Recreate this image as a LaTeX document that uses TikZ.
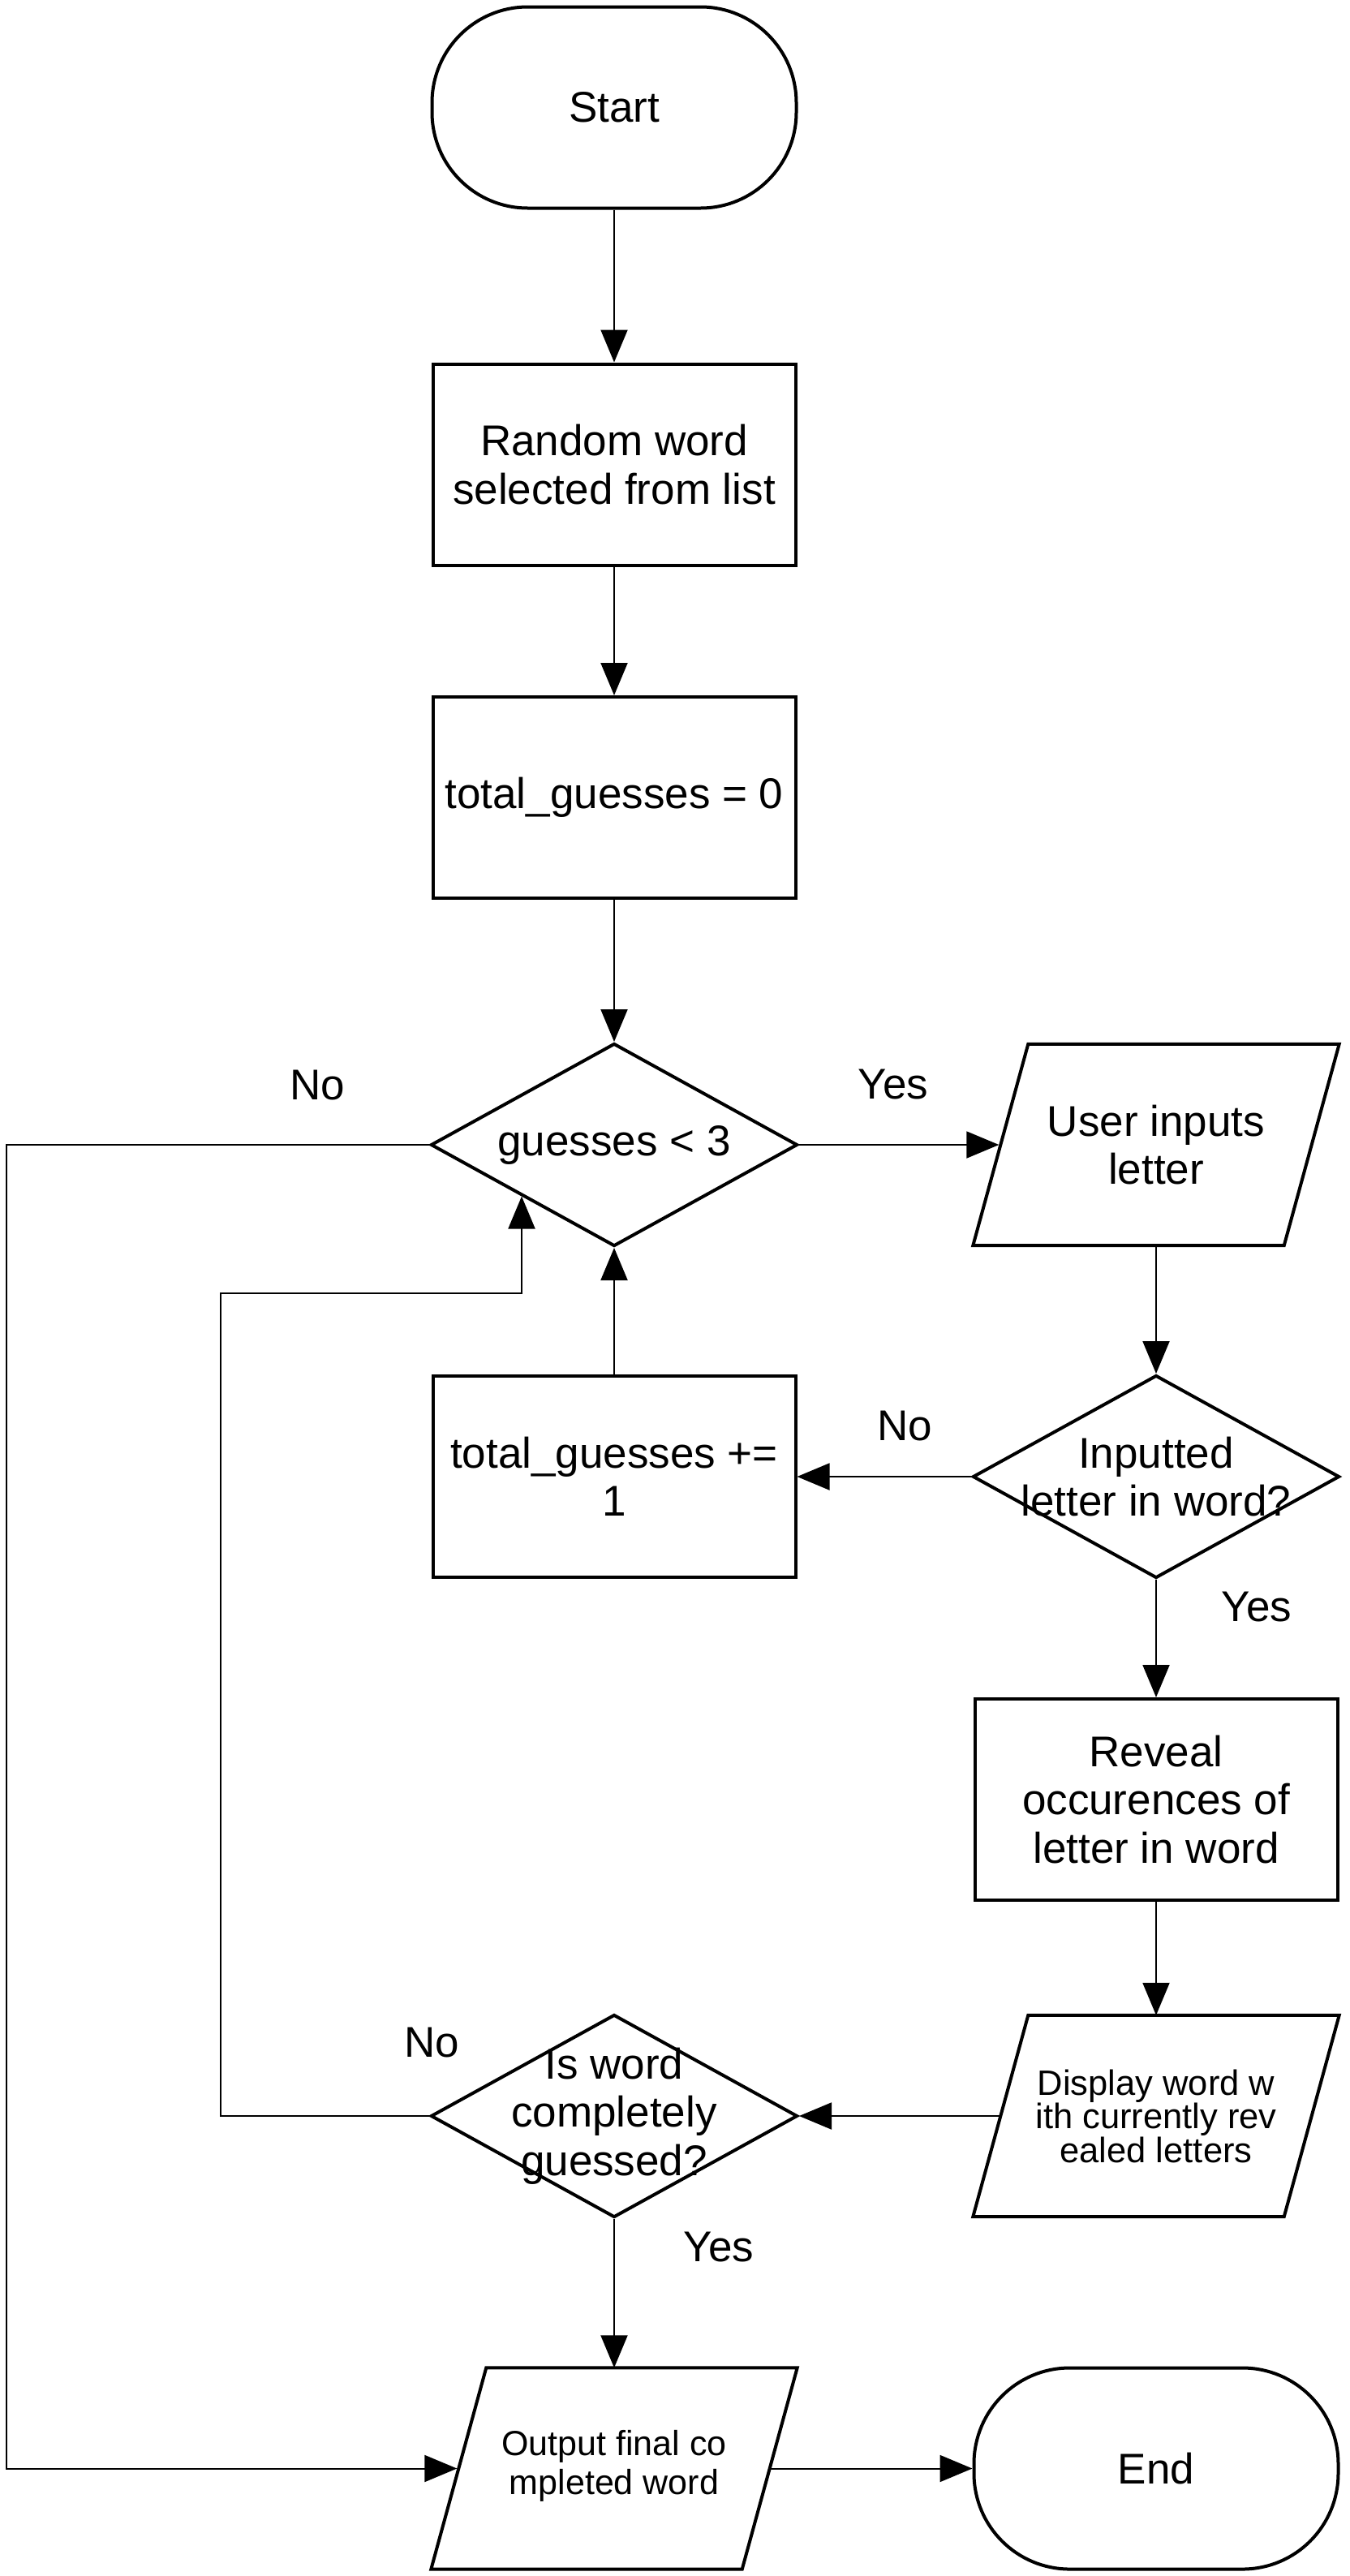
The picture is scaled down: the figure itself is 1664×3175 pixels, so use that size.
\documentclass[tikz,border=0pt]{standalone}
\usepackage{fontspec}
\setmainfont{Liberation Sans}
\usetikzlibrary{shapes.geometric,arrows.meta,calc}
\begin{document}
\begin{tikzpicture}[x=1pt,y=-1pt,
  shapeline/.style={draw=black,line width=4pt,fill=white,inner sep=0pt},
  terminal/.style={shapeline,rectangle,rounded corners=118pt,minimum width=449pt,minimum height=248pt},
  process/.style={shapeline,rectangle,minimum width=447pt,minimum height=248pt},
  decision/.style={shapeline,diamond,minimum width=452pt,minimum height=250pt},
  iobox/.style={rectangle,draw=none,inner sep=0pt,minimum width=451pt,minimum height=248pt},
  ioline/.style={draw=black,line width=4pt,fill=white},
  txt/.style={font=\fontsize{53}{59.5}\selectfont,align=center,inner sep=0pt},
  smalltxt/.style={font=\fontsize{43.5}{41.5}\selectfont,align=center,inner sep=0pt},
  smalltxtb/.style={font=\fontsize{43}{48.5}\selectfont,align=center,inner sep=0pt},
  lbl/.style={font=\fontsize{53}{60}\selectfont,anchor=base,inner sep=0pt},
  conn/.style={line width=2pt,-{Triangle[length=40pt,width=33pt]}},
  plain/.style={line width=2pt}
]
\useasboundingbox (0,0) rectangle (1664,3175);

% ---- shapes ----
\node[terminal] (start) at (757,132.5) {};
\node[txt] (startT) at (start) {Start};

\node[process] (rand) at (757,572.5) {};
\node[txt] (randT) at (rand) {Random word\\selected from list};

\node[process] (tot0) at (757,983) {};
\node[txt] (tot0T) at (tot0) {total\_guesses = 0};

\node[decision] (guess) at (757,1411) {};
\node[txt] (guessT) at (guess) {guesses < 3};

\node[iobox] (userin) at (1425,1411) {};
\draw[ioline] (userin.south west) -- ($(userin.north west)+(68,0)$) -- (userin.north east) -- ($(userin.south east)-(68,0)$) -- cycle;
\node[txt] (userinT) at (userin) {User inputs\\letter};

\node[process] (totp) at (757,1820) {};
\node[txt] (totpT) at (totp) {total\_guesses +=\\1};

\node[decision] (inword) at (1425,1820) {};
\node[txt] (inwordT) at (inword) {Inputted\\letter in word?};

\node[process] (reveal) at (1425,2218) {};
\node[txt] (revealT) at (reveal) {Reveal\\occurences of\\letter in word};

\node[iobox] (display) at (1425,2608) {};
\draw[ioline] (display.south west) -- ($(display.north west)+(68,0)$) -- (display.north east) -- ($(display.south east)-(68,0)$) -- cycle;
\node[smalltxt] (displayT) at (display) {Display word w\\ith currently rev\\ealed letters};

\node[decision] (isword) at (757,2608) {};
\node[txt] (iswordT) at (isword) {Is word\\completely\\guessed?};

\node[iobox] (output) at (757,3042.5) {};
\draw[ioline] (output.south west) -- ($(output.north west)+(68,0)$) -- (output.north east) -- ($(output.south east)-(68,0)$) -- cycle;
\node[smalltxtb] (outputT) at ($(output)+(0,-3)$) {Output final co\\mpleted word};

\node[terminal] (endn) at (1425,3042.5) {};
\node[txt] (endT) at (endn) {End};

% ---- bend points ----
\coordinate (outerL) at (8,3042.5);
\coordinate (innerL) at (272,1594);

% ---- connectors ----
\draw[conn] (start) -- (rand);
\draw[conn] (rand) -- (tot0);
\draw[conn] (tot0) -- (guess);
\draw[conn] (guess.east) -- ($(userin.west)+(32,0)$);
\draw[conn] (guess.west) -| (outerL) -- ($(output.west)+(32,0)$);
\draw[conn] (userin.south) -- (inword.north);
\draw[conn] (inword.west) -- (totp.east);
\draw[conn] (totp.north) -- (guess.south);
\draw[conn] (inword.south) -- (reveal.north);
\draw[conn] (reveal.south) -- (display.north);
\draw[conn] ($(display.west)+(34,0)$) -- (isword.east);
\draw[conn] (isword.west) -| (innerL) -| (guess.south west);
\draw[conn] (isword.south) -- (output.north);
\draw[conn] ($(output.east)-(34,0)$) -- (endn.west);

% ---- labels ----
\node[lbl] (yes1) at (1101,1354) {Yes};
\node[lbl] (no1) at (391,1355) {No};
\node[lbl] (no2) at (1115,1775) {No};
\node[lbl] (yes2) at (1549,1998) {Yes};
\node[lbl] (no3) at (532,2535) {No};
\node[lbl] (yes3) at (886,2787) {Yes};
\end{tikzpicture}
\end{document}
